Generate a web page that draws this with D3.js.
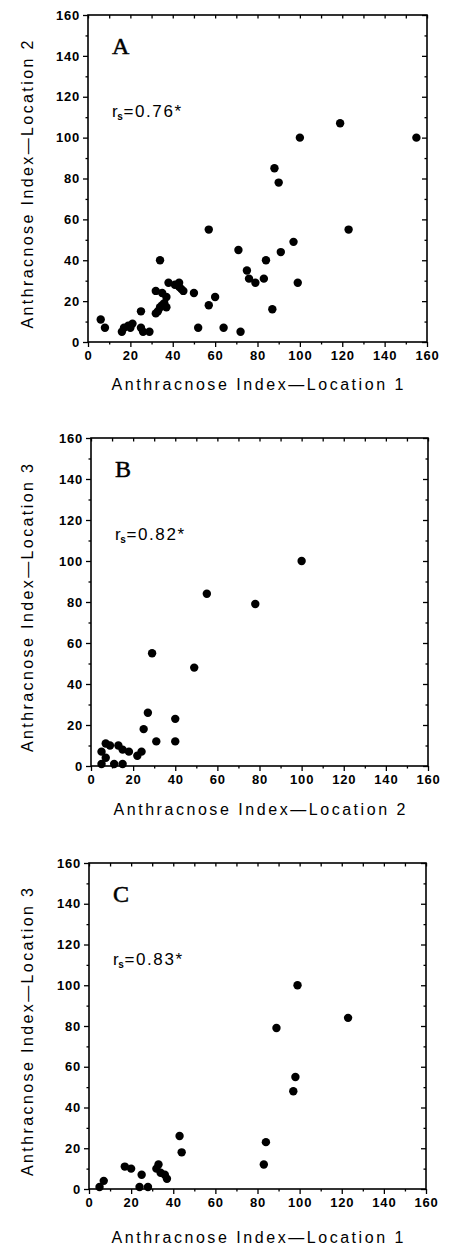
<!DOCTYPE html>
<html>
<head>
<meta charset="utf-8">
<script src="https://cdn.jsdelivr.net/npm/d3@7"></script>
<style>
  html, body { margin: 0; padding: 0; background: #fff; }
  svg { display: block; }
</style>
</head>
<body>
<div id="chart"></div>
<script>
// anthracnose index, three location pairs
const panelLetters = ['A', 'B', 'C'];
const rsLabels = ['0.76', '0.82', '0.83'];
const xTitles = ['Anthracnose Index\u2014Location 1', 'Anthracnose Index\u2014Location 2', 'Anthracnose Index\u2014Location 1'];
const yTitles = ['Anthracnose Index\u2014Location 2', 'Anthracnose Index\u2014Location 3', 'Anthracnose Index\u2014Location 3'];
const majorTicks = [0, 20, 40, 60, 80, 100, 120, 140, 160];
const minorTicks = [10, 30, 50, 70, 90, 110, 130, 150];

// panel A: location 1 vs location 2
const aLoc1 = [88, 90, 100, 119, 155, 57, 123, 71, 97, 91, 84, 34, 75, 76, 79, 83, 99, 87,
  72, 64, 52, 57, 60, 50, 6, 8, 16, 17, 19, 20, 21, 25, 25, 26, 29,
  32, 33, 34, 35, 36, 37, 32, 35, 37, 38, 43, 43, 41, 44, 45];
const aLoc2 = [85, 78, 100, 107, 100, 55, 55, 45, 49, 44, 40, 40, 35, 31, 29, 31, 29, 16,
  5, 7, 7, 18, 22, 24, 11, 7, 5, 7, 8, 7, 9, 15, 7, 5, 5,
  14, 15, 17, 18, 19, 17, 25, 24, 22, 29, 29, 27, 28, 26, 25];

// panel B: location 2 vs location 3
const bLoc2 = [100, 55, 78, 29, 49, 27, 25, 40, 40, 31, 7, 9, 13, 15, 18, 22, 24, 5, 7, 5, 11, 15];
const bLoc3 = [100, 84, 79, 55, 48, 26, 18, 23, 12, 12, 11, 10, 10, 8, 7, 5, 7, 7, 4, 1, 1, 1];

// panel C: location 1 vs location 3
const cLoc1 = [99, 123, 89, 98, 97, 84, 83, 43, 44, 17, 20, 25, 24, 28, 32, 33, 34, 36, 37, 5, 7];
const cLoc3 = [100, 84, 79, 55, 48, 23, 12, 26, 18, 11, 10, 7, 1, 1, 10, 12, 8, 7, 5, 1, 4];

const panelXs = [aLoc1, bLoc2, cLoc1];
const panelYs = [aLoc2, bLoc3, cLoc3];

const W = 453, H = 1245;
const frames = [
  { left: 88, right: 427, top: 15, bottom: 342, titleGap: 48 },
  { left: 91, right: 428, top: 438, bottom: 766, titleGap: 49 },
  { left: 89, right: 426, top: 863, bottom: 1189, titleGap: 54 }
];

const svg = d3.select('#chart').append('svg')
  .attr('width', W)
  .attr('height', H);

const tickFont = 'Liberation Sans, Arial, sans-serif';

function styleAxis(g) {
  g.select('.domain').remove();
  g.selectAll('.tick line').attr('stroke', '#000').attr('stroke-width', 1.3);
  g.selectAll('text')
    .style('font-family', tickFont)
    .style('font-size', '13px')
    .style('font-weight', 'bold')
    .style('letter-spacing', '0.8px')
    .attr('fill', '#000');
}

frames.forEach((f, i) => {
  const x = d3.scaleLinear().domain([0, 160]).range([f.left, f.right]);
  const y = d3.scaleLinear().domain([0, 160]).range([f.bottom, f.top]);
  const g = svg.append('g');

  // left axis, labelled majors outward
  g.append('g').attr('transform', `translate(${f.left},0)`)
    .call(d3.axisLeft(y).tickValues(majorTicks).tickSize(5).tickPadding(3))
    .call(styleAxis);
  g.append('g').attr('transform', `translate(${f.left},0)`)
    .call(d3.axisLeft(y).tickValues(minorTicks).tickSize(2.5).tickFormat(''))
    .call(styleAxis);

  // bottom axis
  g.append('g').attr('transform', `translate(0,${f.bottom})`)
    .call(d3.axisBottom(x).tickValues(majorTicks).tickSize(5).tickPadding(4))
    .call(styleAxis);
  g.append('g').attr('transform', `translate(0,${f.bottom})`)
    .call(d3.axisBottom(x).tickValues(minorTicks).tickSize(2.5).tickFormat(''))
    .call(styleAxis);

  // top + right ticks pointing inward
  g.append('g').attr('transform', `translate(0,${f.top})`)
    .call(d3.axisTop(x).tickValues(majorTicks.concat(minorTicks)).tickSize(-3.5).tickFormat(''))
    .call(styleAxis);
  g.append('g').attr('transform', `translate(${f.right},0)`)
    .call(d3.axisRight(y).tickValues(majorTicks).tickSize(-5).tickFormat(''))
    .call(styleAxis);
  g.append('g').attr('transform', `translate(${f.right},0)`)
    .call(d3.axisRight(y).tickValues(minorTicks).tickSize(-2.5).tickFormat(''))
    .call(styleAxis);

  // frame
  g.append('rect')
    .attr('x', f.left)
    .attr('y', f.top)
    .attr('width', f.right - f.left)
    .attr('height', f.bottom - f.top)
    .attr('fill', 'none')
    .attr('stroke', '#000')
    .attr('stroke-width', 1.6);

  // points
  const pts = d3.zip(panelXs[i], panelYs[i]);
  g.selectAll('circle')
    .data(pts)
    .join('circle')
    .attr('cx', d => x(d[0]))
    .attr('cy', d => y(d[1]))
    .attr('r', 4.2)
    .attr('fill', '#000');

  // panel letter
  g.append('text')
    .text(panelLetters[i])
    .attr('x', f.left + 24)
    .attr('y', f.top + 39)
    .style('font-family', 'Liberation Serif, Times New Roman, serif')
    .style('font-size', '24px')
    .style('stroke', '#000')
    .style('stroke-width', 0.5)
    .attr('fill', '#000');

  // r_s annotation
  const rs = g.append('text')
    .attr('x', f.left + 24)
    .attr('y', f.top + 102)
    .style('font-family', tickFont)
    .style('font-size', '17px')
    .style('letter-spacing', '1.6px')
    .attr('fill', '#000');
  rs.append('tspan').text('r');
  rs.append('tspan').text('s').style('font-size', '10px').style('font-weight', 'bold').attr('dy', 3).attr('dx', -2);
  rs.append('tspan').text('=' + rsLabels[i] + '*').attr('dy', -3).attr('dx', -1);

  // axis titles
  const cx = (f.left + f.right) / 2;
  g.append('text')
    .text(xTitles[i])
    .attr('x', cx)
    .attr('y', f.bottom + f.titleGap)
    .attr('text-anchor', 'middle')
    .attr('textLength', 292)
    .attr('lengthAdjust', 'spacing')
    .style('font-family', tickFont)
    .style('font-size', '16px')
    .attr('fill', '#000');

  const cy = (f.top + f.bottom) / 2 + 6;
  g.append('text')
    .text(yTitles[i])
    .attr('transform', `translate(33,${cy}) rotate(-90)`)
    .attr('text-anchor', 'middle')
    .attr('textLength', 288)
    .attr('lengthAdjust', 'spacing')
    .style('font-family', tickFont)
    .style('font-size', '16px')
    .attr('fill', '#000');
});
</script>
</body>
</html>
